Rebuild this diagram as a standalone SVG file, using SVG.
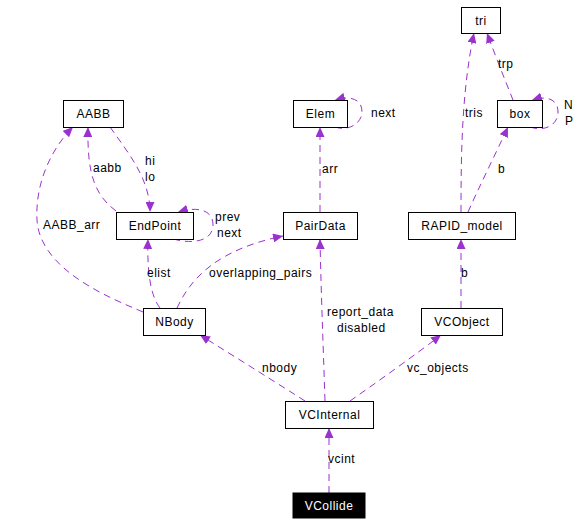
<svg xmlns="http://www.w3.org/2000/svg" width="581" height="525" viewBox="0 0 581 525">
<defs>
<marker id="ah" markerWidth="10" markerHeight="9" refX="10" refY="4.5" orient="auto" markerUnits="userSpaceOnUse">
<path d="M0,0 L10,4.5 L0,9 Z" fill="#9a32cd"/>
</marker>
<style>
.n rect{fill:#fff;stroke:#000;stroke-width:1}
.n text,.l{font-family:"Liberation Sans",Arial,sans-serif;font-size:12px;letter-spacing:0.5px;fill:#000}
.n text{text-anchor:middle}
.e path{fill:none;stroke:#9a32cd;stroke-width:1;stroke-dasharray:7,5;marker-end:url(#ah)}
</style>
</defs>
<rect width="581" height="525" fill="#fff"/>
<g class="e" id="edges">
<path d="M329,493 L329,428"/>
<path d="M305,401 C280,385 240,360 200,335"/>
<path d="M325,401 C323,340 321,290 320,239"/>
<path d="M350,401 C380,380 415,355 441,335"/>
<path d="M461,308 L461,239"/>
<path d="M468,212 C480,185 495,155 508,127"/>
<path d="M461,212 C461,150 462,90 474,33"/>
<path d="M513,100 C505,80 495,55 487,33"/>
<path d="M530,127 C545,132 558,125 558,112 C558,100 548,95 532,100"/>
<path d="M335,127 C350,132 362,122 362,112 C362,100 352,95 335,100"/>
<path d="M320,212 L320,127"/>
<path d="M177,308 C190,280 215,250 283,236"/>
<path d="M160,308 C150,295 147,270 148,239"/>
<path d="M143,312 C110,298 40,270 37,220 C35,185 50,150 73,127"/>
<path d="M116,211 C95,195 87,175 88,127"/>
<path d="M110,127 C130,155 150,180 150,212"/>
<path d="M173,239 C195,245 213,240 213,225 C213,210 198,206 178,212"/>
</g>
<g class="l">
<text class="l" x="145" y="165">hi</text>
<text class="l" x="145" y="181">lo</text>
<text class="l" x="93" y="172">aabb</text>
<text class="l" x="43" y="229">AABB_arr</text>
<text class="l" x="215" y="221">prev</text>
<text class="l" x="217" y="237">next</text>
<text class="l" x="322" y="173">arr</text>
<text class="l" x="465" y="117">tris</text>
<text class="l" x="498" y="173">b</text>
<text class="l" x="371" y="117">next</text>
<text class="l" x="564" y="109">N</text>
<text class="l" x="565" y="125">P</text>
<text class="l" x="498" y="68">trp</text>
<text class="l" x="147" y="277">elist</text>
<text class="l" x="209" y="277">overlapping_pairs</text>
<text class="l" x="327" y="316">report_data</text>
<text class="l" x="337" y="332">disabled</text>
<text class="l" x="461" y="277">b</text>
<text class="l" x="262" y="372">nbody</text>
<text class="l" x="407" y="372">vc_objects</text>
<text class="l" x="328" y="463">vcint</text>
</g>
<g class="n" id="AABB"><rect x="63.5" y="100.5" width="60" height="27"/><text x="93.5" y="118">AABB</text></g>
<g class="n" id="EndPoint"><rect x="116.5" y="212.5" width="77" height="27"/><text x="155" y="230">EndPoint</text></g>
<g class="n" id="Elem"><rect x="293.5" y="100.5" width="54" height="27"/><text x="320.5" y="118">Elem</text></g>
<g class="n" id="PairData"><rect x="283.5" y="212.5" width="74" height="27"/><text x="320.5" y="230">PairData</text></g>
<g class="n" id="tri"><rect x="461.5" y="7.5" width="39" height="26"/><text x="481" y="25">tri</text></g>
<g class="n" id="box"><rect x="497.5" y="100.5" width="45" height="27"/><text x="520" y="118">box</text></g>
<g class="n" id="RAPID_model"><rect x="408.5" y="212.5" width="107" height="27"/><text x="462" y="230">RAPID_model</text></g>
<g class="n" id="NBody"><rect x="143.5" y="308.5" width="62" height="27"/><text x="174.5" y="326">NBody</text></g>
<g class="n" id="VCObject"><rect x="421.5" y="308.5" width="81" height="27"/><text x="462" y="326">VCObject</text></g>
<g class="n" id="VCInternal"><rect x="285.5" y="401.5" width="88" height="27"/><text x="329.5" y="419">VCInternal</text></g>
<g class="n" id="VCollide"><rect x="293" y="493" width="72" height="25" style="fill:#000;stroke:#000"/><text x="329" y="510" style="fill:#fff">VCollide</text></g>
</svg>
